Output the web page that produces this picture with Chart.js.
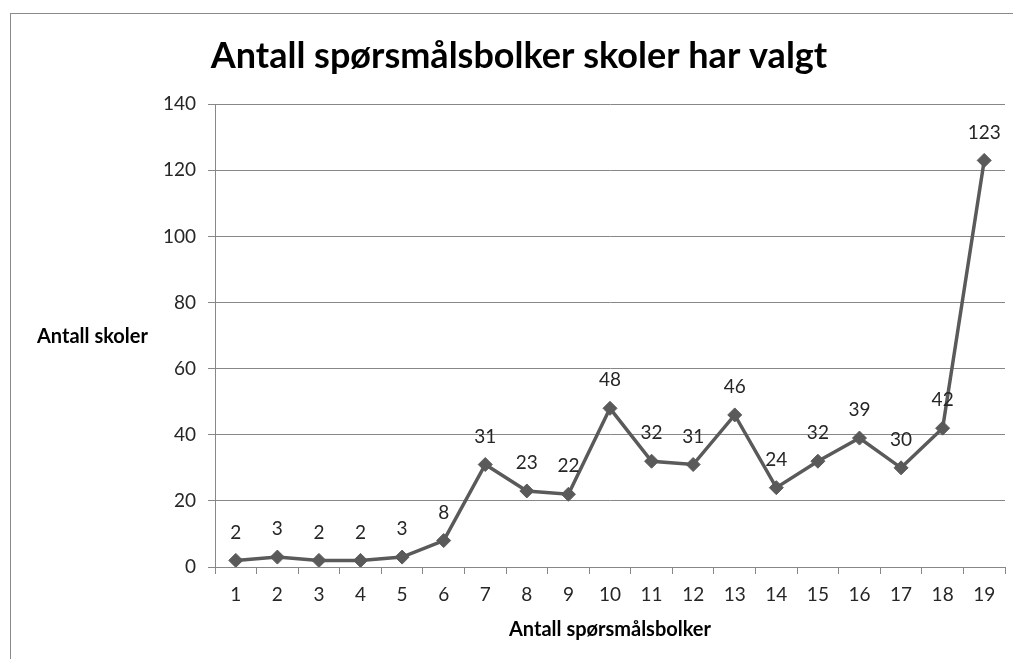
<!DOCTYPE html>
<html>
<head>
<meta charset="utf-8">
<script src="https://cdn.jsdelivr.net/npm/chart.js@4.4.1/dist/chart.umd.min.js"></script>
<style>
  html, body { margin: 0; padding: 0; background: #fff; }
  body { width: 1013px; height: 659px; position: relative; overflow: hidden; }
  #frame { position: absolute; left: 10px; top: 13px; right: -2px; bottom: -2px; border-left: 1px solid #8a8a8a; border-top: 1px solid #8a8a8a; }
  #wrap { position: absolute; left: 11px; top: 14px; width: 1002px; height: 645px; }
</style>
</head>
<body>
<div id="frame"></div>
<div id="wrap"><canvas id="c"></canvas></div>
<script>
const categories = ['1','2','3','4','5','6','7','8','9','10','11','12','13','14','15','16','17','18','19'];
const values = [2, 3, 2, 2, 3, 8, 31, 23, 22, 48, 32, 31, 46, 24, 32, 39, 30, 42, 123];
const chartTitle = 'Antall spørsmålsbolker skoler har valgt';
const yTitle = 'Antall skoler';
const xTitle = 'Antall spørsmålsbolker';

const FONT = 'Lato, Carlito, "Open Sans", sans-serif';
const LINE = '#5a5a5a';
const GRID = '#878787';
const TEXT = '#262626';

const labelPlugin = {
  id: 'pointLabels',
  afterDatasetsDraw(chart) {
    const ctx = chart.ctx;
    const meta = chart.getDatasetMeta(0);
    ctx.save();
    ctx.font = '19px ' + FONT;
    ctx.fillStyle = TEXT;
    ctx.textAlign = 'center';
    ctx.textBaseline = 'middle';
    meta.data.forEach((pt, i) => {
      ctx.fillText(String(values[i]), pt.x, pt.y - 28);
    });
    ctx.restore();
  }
};

const yTitlePlugin = {
  id: 'yTitleFlat',
  afterDraw(chart) {
    const ctx = chart.ctx;
    const a = chart.chartArea;
    ctx.save();
    ctx.font = 'bold 20px ' + FONT;
    ctx.fillStyle = '#000';
    ctx.textAlign = 'left';
    ctx.textBaseline = 'middle';
    ctx.fillText(yTitle, 26, (a.top + a.bottom) / 2 + 1);
    ctx.restore();
  }
};

new Chart(document.getElementById('c'), {
  type: 'line',
  data: {
    labels: categories,
    datasets: [{
      data: values,
      borderColor: LINE,
      backgroundColor: LINE,
      borderWidth: 3.5,
      tension: 0,
      pointStyle: 'rectRot',
      pointRadius: 7,
      pointBackgroundColor: LINE,
      pointBorderColor: LINE,
      pointBorderWidth: 1
    }]
  },
  options: {
    responsive: true,
    maintainAspectRatio: false,
    animation: false,
    events: [],
    layout: { padding: { left: 21, right: 7, top: 0, bottom: 0 } },
    plugins: {
      legend: { display: false },
      tooltip: { enabled: false },
      title: {
        display: true,
        text: chartTitle,
        color: '#000',
        font: { family: FONT, size: 36, weight: 'bold' },
        padding: { top: 21, bottom: 26 }
      }
    },
    scales: {
      x: {
        offset: true,
        afterFit(scale) { scale.height = 92; },
        grid: { display: true, drawOnChartArea: false, drawTicks: true, offset: true, tickLength: 7, color: GRID, lineWidth: 1 },
        border: { display: true, color: GRID, width: 1 },
        ticks: { color: TEXT, font: { family: FONT, size: 19 }, padding: 9, maxRotation: 0, autoSkip: false },
        title: { display: true, text: xTitle, color: '#000', font: { family: FONT, size: 20, weight: 'bold' }, padding: { top: 0, bottom: 17 } }
      },
      y: {
        min: 0,
        max: 140,
        afterFit(scale) { scale.width = 183; },
        grid: { display: true, drawTicks: true, tickLength: 7, color: GRID, lineWidth: 1 },
        border: { display: true, color: GRID, width: 1 },
        ticks: { stepSize: 20, color: TEXT, font: { family: FONT, size: 19 }, padding: 12 }
      }
    }
  },
  plugins: [labelPlugin, yTitlePlugin]
});
</script>
</body>
</html>
